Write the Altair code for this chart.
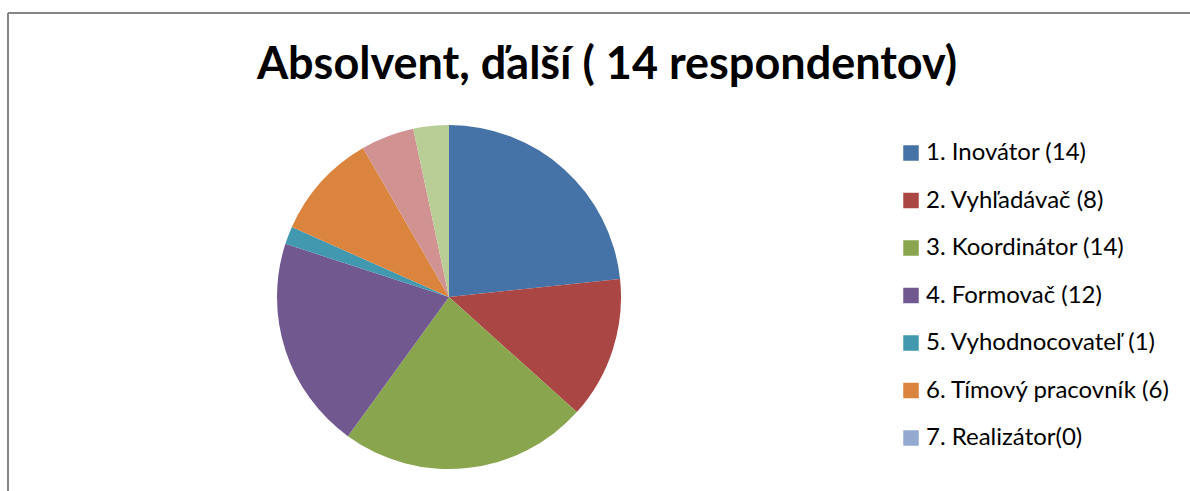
import altair as alt
import pandas as pd

labels = ["1. Inovátor (14)", "2. Vyhľadávač (8)", "3. Koordinátor (14)", "4. Formovač (12)",
          "5. Vyhodnocovateľ (1)", "6. Tímový pracovník (6)", "7. Realizátor(0)",
          "8. Dokončovateľ (3)", "9. Špecialista (2)"]
values = [14, 8, 14, 12, 1, 6, 0, 3, 2]
colors = ["#4572A7", "#AA4643", "#89A54E", "#71588F", "#4198AF", "#DB843D",
          "#93A9CF", "#D19392", "#B9CD96"]
legend_labels = labels[:7]
title_text = "Absolvent, ďalší ( 14 respondentov)"

df = pd.DataFrame({"label": labels, "value": values, "idx": list(range(len(labels)))})

W, H = 1182, 478
FONT = "Lato"

frame = pd.DataFrame({"a": [0]})
top_line = alt.Chart(frame).mark_rule(color="#868686", strokeWidth=2).encode(
    x=alt.value(0), x2=alt.value(3000), y=alt.value(0))
left_line = alt.Chart(frame).mark_rule(color="#868686", strokeWidth=2).encode(
    x=alt.value(0), y=alt.value(0), y2=alt.value(3000))

title = alt.Chart(pd.DataFrame({"t": [title_text]})).mark_text(
    font=FONT, fontSize=45, fontWeight="bold", color="black", align="center", baseline="alphabetic"
).encode(text="t:N", x=alt.value(599), y=alt.value(66))

pie = alt.Chart(df).mark_arc(radius=172, strokeWidth=0).encode(
    theta=alt.Theta("value:Q", stack=True),
    order=alt.Order("idx:Q"),
    color=alt.Color("label:N", sort=labels,
                    scale=alt.Scale(domain=labels, range=colors),
                    legend=alt.Legend(
                        title=None, orient="none", legendX=891, legendY=128,
                        values=legend_labels,
                        symbolType="square", symbolSize=240, symbolStrokeWidth=0,
                        labelFont=FONT, labelFontSize=24, labelColor="black",
                        rowPadding=23.5, labelOffset=3, labelLimit=400,
                    )),
    x=alt.value(441), y=alt.value(284),
)

chart = alt.layer(top_line, left_line, title, pie).properties(
    width=W, height=H,
    autosize=alt.AutoSizeParams(type="none"),
    padding={"left": 8, "top": 13, "right": 0, "bottom": 0},
).configure_view(stroke=None)

chart.save("out.html", embed_options={"renderer": "svg", "actions": False})
